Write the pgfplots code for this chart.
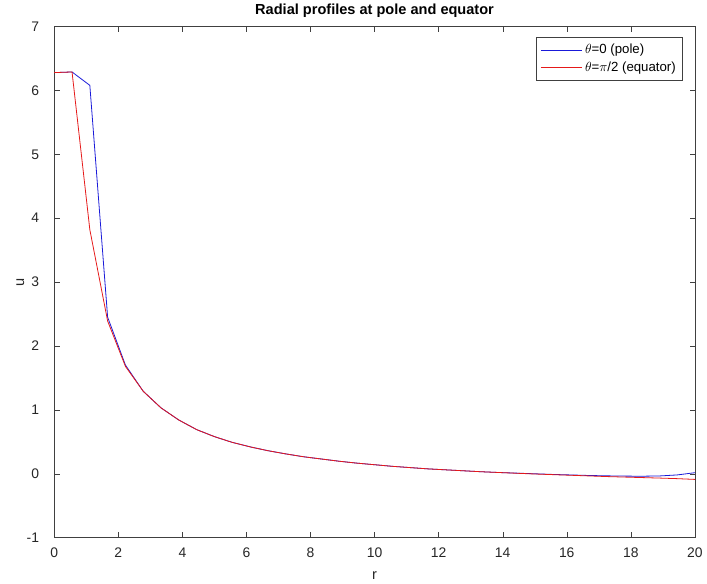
\documentclass[border=0pt]{standalone}
\usepackage{fontspec}
\setmainfont{Liberation Sans}
\usepackage{pgfplots}
\usepackage{pgfplotstable}
\pgfplotsset{compat=1.18}
\definecolor{poleblue}{rgb}{0.1,0.1,0.85}
\definecolor{eqred}{rgb}{0.9,0.1,0.1}

\pgfplotstableread{
r       pole    equator
0.0000  6.28    6.28
0.5556  6.29    6.29
1.1111  6.08    3.82
1.6667  2.45    2.39
2.2222  1.70    1.68
2.7778  1.29    1.29
3.3333  1.03    1.03
3.8889  0.84    0.84
4.4444  0.69    0.69
5.0000  0.58    0.58
5.5556  0.49    0.49
6.1111  0.42    0.42
6.6667  0.36    0.36
7.2222  0.31    0.31
7.7778  0.265   0.265
8.3333  0.23    0.23
8.8889  0.195   0.195
9.4444  0.165   0.165
10.0000 0.14    0.14
10.5556 0.115   0.115
11.1111 0.095   0.095
11.6667 0.075   0.075
12.2222 0.06    0.06
12.7778 0.045   0.045
13.3333 0.03    0.03
13.8889 0.018   0.018
14.4444 0.008   0.006
15.0000 -0.002  -0.005
15.5556 -0.012  -0.015
16.1111 -0.020  -0.025
16.6667 -0.028  -0.035
17.2222 -0.034  -0.045
17.7778 -0.038  -0.053
18.3333 -0.040  -0.061
18.8889 -0.036  -0.069
19.4444 -0.020  -0.078
20.0000 0.015   -0.090
}\profiles

\begin{document}
\begin{tikzpicture}
\begin{axis}[
    name=ax,
    scale only axis,
    width=484pt, height=386pt,
    xmin=0, xmax=20, ymin=-1, ymax=7,
    xtick={0,2,...,20},
    ytick={-1,0,...,7},
    tick align=inside,
    major tick length=4pt,
    axis line style={draw=black!75},
    tick style={black!75},
    ticklabel style={font=\fontsize{10.5}{12}\selectfont, black!85},
    yticklabel style={xshift=-8pt},
    xticklabel style={yshift=-4pt},
    /pgf/number format/assume math mode=true,
    xlabel={r}, ylabel={u},
    label style={font=\fontsize{11}{13}\selectfont, black!85},
    xlabel style={yshift=-4pt},
    ylabel style={yshift=-5pt},
    title={\textbf{Radial profiles at pole and equator}},
    title style={font=\fontsize{11}{13}\selectfont, yshift=-3pt},
    legend style={at={(0.981,0.979)}, anchor=north east,
        font=\fontsize{10}{12}\selectfont, draw=black!75,
        inner xsep=3pt, inner ysep=3pt, row sep=0.5pt},
    legend cell align=left,
]
\addplot[draw=poleblue, line width=0.6pt,
    legend image code/.code={\draw[poleblue, line width=0.6pt] (0pt,0pt) -- (31pt,0pt);}]
    table[x=r, y=pole] {\profiles};
\addlegendentry{$\theta$=0 (pole)}
\addplot[draw=eqred, line width=0.6pt,
    legend image code/.code={\draw[eqred, line width=0.6pt] (0pt,0pt) -- (31pt,0pt);}]
    table[x=r, y=equator] {\profiles};
\addlegendentry{$\theta$=$\pi$/2 (equator)}
\end{axis}
\path ([xshift=-9pt]ax.outer west);
\end{tikzpicture}
\end{document}
